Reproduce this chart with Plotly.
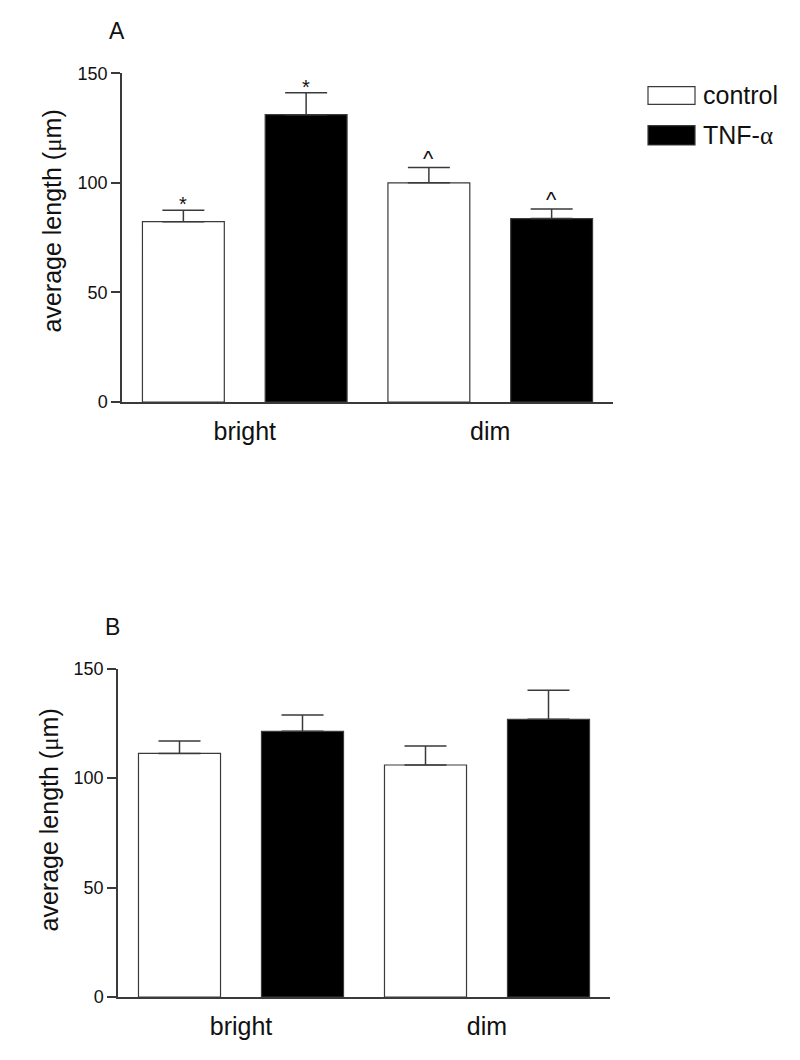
import plotly.graph_objects as go

# ---- data ----
categories = ["bright", "dim"]
series_names = ["control", "TNF-α"]

a_control = [82.3, 100.0]
a_control_err = [5.2, 7.0]
a_tnf = [131.1, 83.7]
a_tnf_err = [10.0, 4.4]
a_control_marks = ["*", "^"]
a_tnf_marks = ["*", "^"]

b_control = [111.3, 106.0]
b_control_err = [5.7, 8.7]
b_tnf = [121.4, 126.9]
b_tnf_err = [7.4, 13.2]

y_ticks = [0, 50, 100, 150]

# ---- layout helpers ----
OFF = 8  # page body margin
W, H = 800 - OFF, 1060 - OFF
FONT = "Liberation Sans, Arial, sans-serif"
LINE = "#3a3a3a"
TXT = "#111111"


def px(x):
    return (x - OFF) / W


def py(y):
    return 1 - (y - OFF) / H


fig = go.Figure()


def add_bars(vals, errs, name, color, xa, ya):
    fig.add_trace(go.Bar(
        x=categories, y=vals, name=name, xaxis=xa, yaxis=ya,
        marker=dict(color=color, line=dict(color=LINE, width=1.2)),
        error_y=dict(type="data", array=errs, symmetric=False,
                     arrayminus=[0] * len(errs), color=LINE,
                     thickness=1.5, width=21),
        showlegend=False, cliponaxis=False,
    ))


add_bars(a_control, a_control_err, series_names[0], "white", "x", "y")
add_bars(a_tnf, a_tnf_err, series_names[1], "black", "x", "y")
add_bars(b_control, b_control_err, series_names[0], "white", "x2", "y2")
add_bars(b_tnf, b_tnf_err, series_names[1], "black", "x2", "y2")

xaxis_common = dict(
    type="category", range=[-0.5, 1.5], showgrid=False, zeroline=False,
    showline=True, linecolor=LINE, linewidth=1.5, automargin=False,
    ticks="outside", ticklen=6, tickcolor="rgba(0,0,0,0)",
    tickfont=dict(family=FONT, size=25, color=TXT),
)
yaxis_common = dict(
    range=[0, 150], tickvals=y_ticks, showgrid=False, zeroline=False,
    showline=True, linecolor=LINE, linewidth=1.5, automargin=False,
    ticks="outside", ticklen=9, tickwidth=1.5, tickcolor=LINE,
    tickfont=dict(family=FONT, size=18, color=TXT),
)

fig.update_layout(
    width=W, height=H,
    margin=dict(l=0, r=0, t=0, b=0, autoexpand=False),
    paper_bgcolor="white", plot_bgcolor="white",
    barmode="group", bargap=0.0, bargroupgap=0.333,
    showlegend=False,
    xaxis=dict(domain=[px(122), px(613)], anchor="y", **xaxis_common),
    yaxis=dict(domain=[py(402), py(73.3)], anchor="x", **yaxis_common),
    xaxis2=dict(domain=[px(118), px(610)], anchor="y2", **xaxis_common),
    yaxis2=dict(domain=[py(997), py(668.7)], anchor="x2", **yaxis_common),
)

ann = []
# significance marks above error bars (panel A)
offset = 61.4
for i, c in enumerate(categories):
    for vals, errs, marks, sh in ((a_control, a_control_err, a_control_marks, -offset),
                                  (a_tnf, a_tnf_err, a_tnf_marks, offset)):
        m = marks[i]
        ann.append(dict(
            x=c, y=vals[i] + errs[i], xref="x", yref="y", xshift=sh,
            text=m, showarrow=False, yanchor="middle",
            yshift=6 if m == "*" else 9,
            font=dict(family=FONT, size=20 if m == "*" else 22, color=TXT),
        ))

ytitle = "average length (<span style='font-family:Liberation Serif'>μ</span>m)"
ann.append(dict(x=px(51), y=py(221.5), xref="paper", yref="paper", text=ytitle,
                textangle=-90, showarrow=False, xanchor="center", yanchor="middle",
                font=dict(family=FONT, size=25, color=TXT)))
ann.append(dict(x=px(48), y=py(820.5), xref="paper", yref="paper", text=ytitle,
                textangle=-90, showarrow=False, xanchor="center", yanchor="middle",
                font=dict(family=FONT, size=25, color=TXT)))

# panel letters
ann.append(dict(x=px(107), y=py(31), xref="paper", yref="paper", text="A",
                showarrow=False, xanchor="left", yanchor="middle",
                font=dict(family=FONT, size=23, color=TXT)))
ann.append(dict(x=px(103), y=py(627), xref="paper", yref="paper", text="B",
                showarrow=False, xanchor="left", yanchor="middle",
                font=dict(family=FONT, size=23, color=TXT)))

# legend
shapes = [
    dict(type="rect", xref="paper", yref="paper", x0=px(648), x1=px(695),
         y0=py(104.3), y1=py(86.7), fillcolor="white", line=dict(color=LINE, width=1.2)),
    dict(type="rect", xref="paper", yref="paper", x0=px(648), x1=px(695),
         y0=py(145), y1=py(125.7), fillcolor="black", line=dict(color=LINE, width=1.2)),
]
ann.append(dict(x=px(701), y=py(95), xref="paper", yref="paper", text=series_names[0],
                showarrow=False, xanchor="left", yanchor="middle",
                font=dict(family=FONT, size=25, color=TXT)))
ann.append(dict(x=px(701), y=py(135), xref="paper", yref="paper",
                text="TNF-<span style='font-family:Liberation Serif'>α</span>",
                showarrow=False, xanchor="left", yanchor="middle",
                font=dict(family=FONT, size=25, color=TXT)))

fig.update_layout(annotations=ann, shapes=shapes)
fig.write_html("out.html")
